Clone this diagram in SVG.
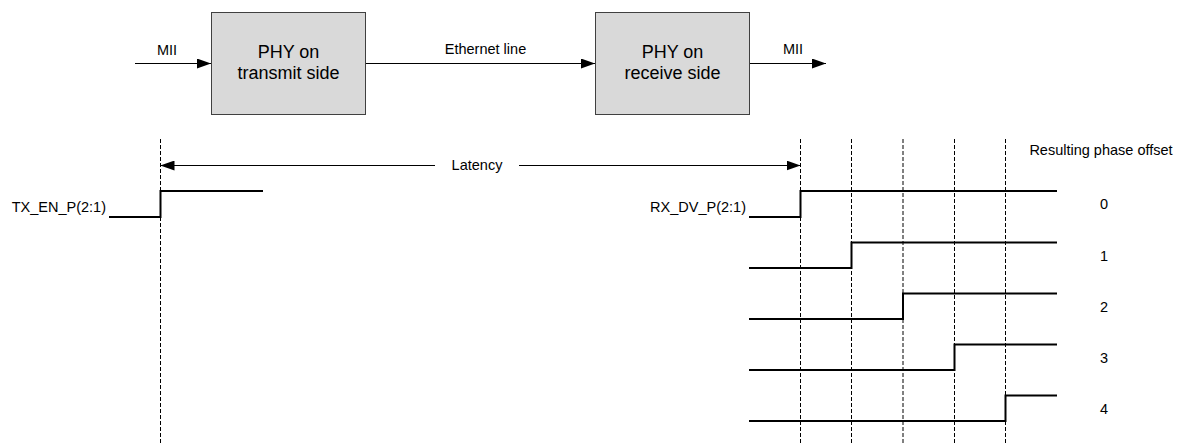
<svg xmlns="http://www.w3.org/2000/svg" width="1180" height="446" viewBox="0 0 1180 446">
<style>
.t{font-family:"Liberation Sans",Arial,sans-serif;font-size:14.5px;fill:#000}
.b{font-family:"Liberation Sans",Arial,sans-serif;font-size:18px;fill:#000;text-anchor:middle}
.box{fill:#d9d9d9;stroke:#404040;stroke-width:1}
.ln{stroke:#000;stroke-width:1;fill:none}
.dash{stroke:#000;stroke-width:1;stroke-dasharray:4 2;fill:none}
.sig{stroke:#000;stroke-width:2;fill:none}
</style>
<defs>
<marker id="ah" markerUnits="userSpaceOnUse" markerWidth="14" markerHeight="10" refX="14" refY="5" orient="auto-start-reverse">
<path d="M0,0 L14,5 L0,10 Z" fill="#000"/>
</marker>
</defs>
<g id="phy-tx">
<rect class="box" x="211.5" y="12.5" width="154" height="102"/>
<text class="b" x="288.5" y="58">PHY on</text>
<text class="b" x="288.5" y="79">transmit side</text>
</g>
<g id="phy-rx">
<rect class="box" x="595.5" y="12.5" width="154" height="102"/>
<text class="b" x="672.5" y="58">PHY on</text>
<text class="b" x="672.5" y="79">receive side</text>
</g>
<g id="connectors">
<line class="ln" x1="135" y1="63.5" x2="211" y2="63.5" marker-end="url(#ah)"/>
<line class="ln" x1="366" y1="63.5" x2="595" y2="63.5" marker-end="url(#ah)"/>
<line class="ln" x1="750" y1="63.5" x2="826" y2="63.5" marker-end="url(#ah)"/>
<line class="ln" x1="435" y1="165.5" x2="160.5" y2="165.5" marker-end="url(#ah)"/>
<line class="ln" x1="519" y1="165.5" x2="800.5" y2="165.5" marker-end="url(#ah)"/>
</g>
<g id="labels">
<text class="t" x="167" y="55" text-anchor="middle">MII</text>
<text class="t" x="485.5" y="54" text-anchor="middle">Ethernet line</text>
<text class="t" x="793" y="54" text-anchor="middle">MII</text>
<text class="t" x="477" y="170" text-anchor="middle">Latency</text>
<text class="t" x="1101" y="155" text-anchor="middle">Resulting phase offset</text>
<text class="t" x="106" y="211.5" text-anchor="end">TX_EN_P(2:1)</text>
<text class="t" x="746" y="211.5" text-anchor="end">RX_DV_P(2:1)</text>
<text class="t" x="1104" y="208.5" text-anchor="middle">0</text>
<text class="t" x="1104" y="260.5" text-anchor="middle">1</text>
<text class="t" x="1104" y="311.5" text-anchor="middle">2</text>
<text class="t" x="1104" y="362.5" text-anchor="middle">3</text>
<text class="t" x="1104" y="414" text-anchor="middle">4</text>
</g>
<g id="grid">
<line class="dash" x1="160.5" y1="139" x2="160.5" y2="445"/>
<line class="dash" x1="800.5" y1="139" x2="800.5" y2="445"/>
<line class="dash" x1="851.5" y1="139" x2="851.5" y2="445"/>
<line class="dash" x1="903" y1="139" x2="903" y2="445"/>
<line class="dash" x1="954.5" y1="139" x2="954.5" y2="445"/>
<line class="dash" x1="1005.5" y1="139" x2="1005.5" y2="445"/>
</g>
<g id="waveforms">
<polyline class="sig" points="109,217 160.5,217 160.5,191 263,191"/>
<polyline class="sig" points="749,217 800.5,217 800.5,191 1057,191"/>
<polyline class="sig" points="749,268 851.5,268 851.5,242.5 1057,242.5"/>
<polyline class="sig" points="749,319 903,319 903,293.5 1057,293.5"/>
<polyline class="sig" points="749,370 954.5,370 954.5,344.5 1057,344.5"/>
<polyline class="sig" points="749,421 1005.5,421 1005.5,395.5 1057,395.5"/>
</g>
</svg>
